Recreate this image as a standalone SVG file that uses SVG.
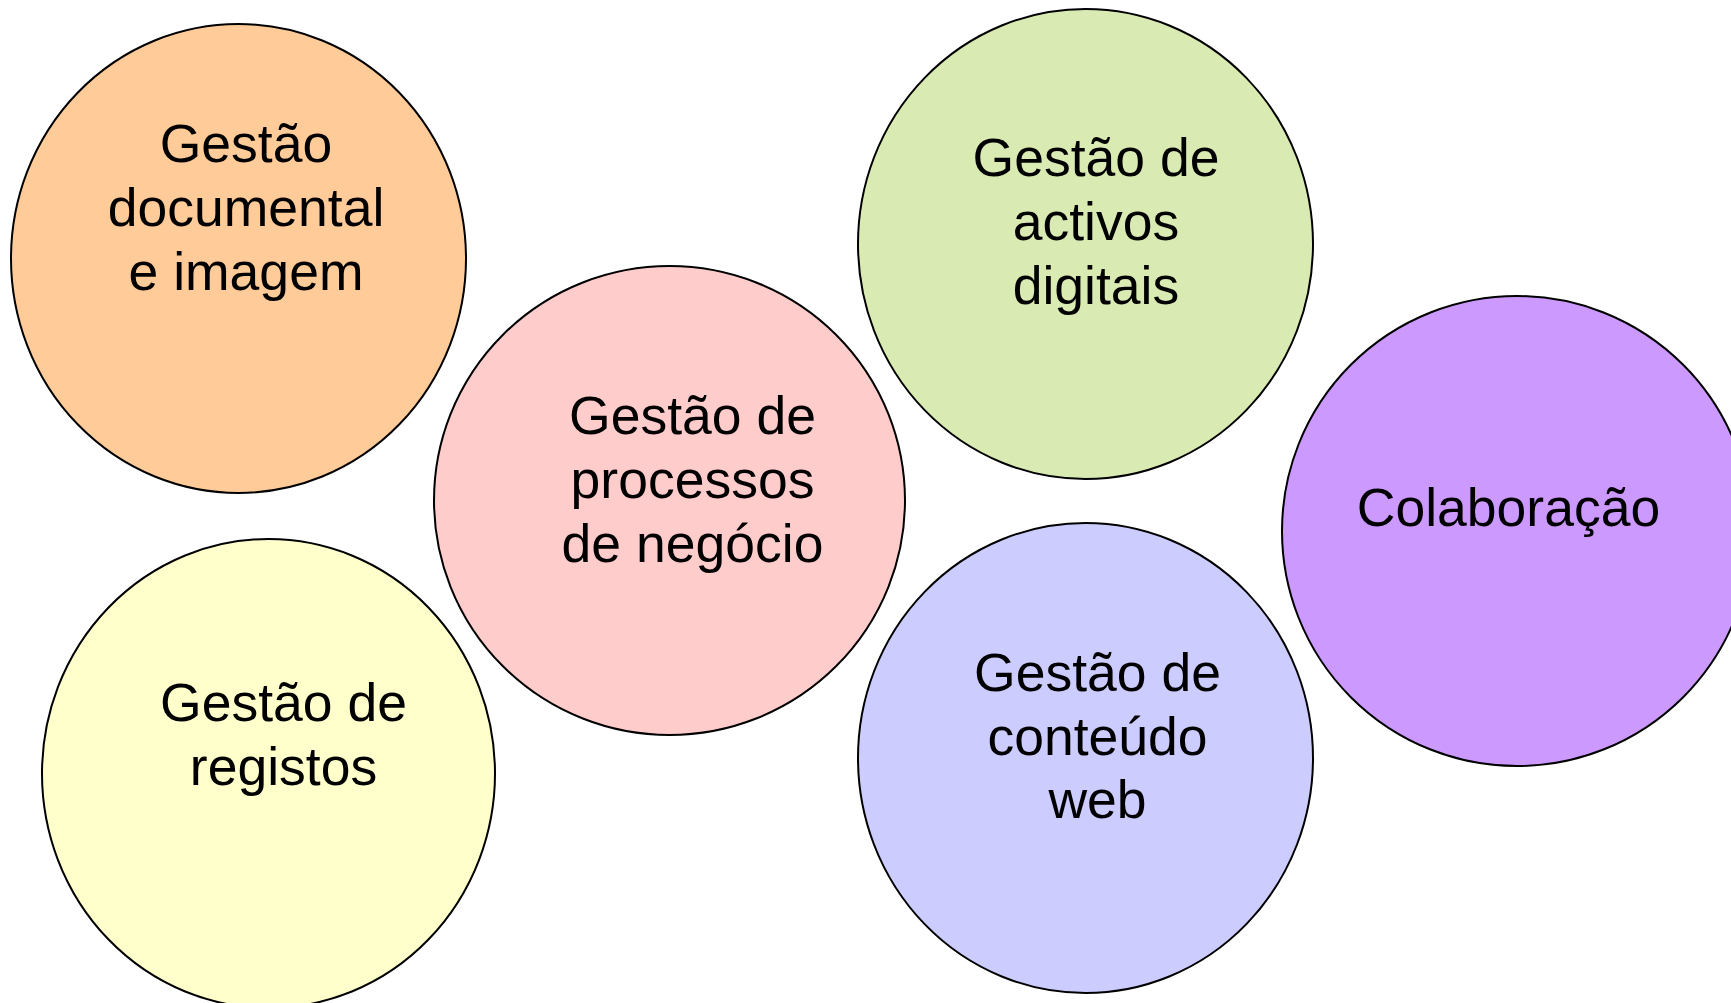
<svg xmlns="http://www.w3.org/2000/svg" width="1731" height="1003" viewBox="0 0 1731 1003">
<style>
.c{stroke:#000;stroke-width:2}
.t{font-family:"Liberation Sans",Arial,sans-serif;font-size:53.5px;fill:#000;text-anchor:middle}
</style>
<rect width="1731" height="1003" fill="#fff"/>
<g id="connectors"/>
<g id="n-documental">
<ellipse class="c" cx="238.5" cy="258.5" rx="227.5" ry="234.5" fill="#FFCC99"/>
<text class="t" x="246" y="162">Gestão</text>
<text class="t" x="246" y="226">documental</text>
<text class="t" x="246" y="290">e imagem</text>
</g>
<g id="n-registos">
<ellipse class="c" cx="268.5" cy="773.5" rx="226.5" ry="234.5" fill="#FFFFCC"/>
<text class="t" x="283.5" y="721">Gestão de</text>
<text class="t" x="283.5" y="785">registos</text>
</g>
<g id="n-processos">
<ellipse class="c" cx="669.5" cy="500.5" rx="235.5" ry="234.5" fill="#FFCCCC"/>
<text class="t" x="692.5" y="434">Gestão de</text>
<text class="t" x="692.5" y="498">processos</text>
<text class="t" x="692.5" y="562">de negócio</text>
</g>
<g id="n-activos">
<ellipse class="c" cx="1085.5" cy="244" rx="227.5" ry="235" fill="#D9EAB3"/>
<text class="t" x="1096" y="176">Gestão de</text>
<text class="t" x="1096" y="240">activos</text>
<text class="t" x="1096" y="304">digitais</text>
</g>
<g id="n-web">
<ellipse class="c" cx="1085.5" cy="758" rx="227.5" ry="235" fill="#CCCCFF"/>
<text class="t" x="1097.5" y="691">Gestão de</text>
<text class="t" x="1097.5" y="755">conteúdo</text>
<text class="t" x="1097.5" y="818">web</text>
</g>
<g id="n-colaboracao">
<ellipse class="c" cx="1517" cy="531" rx="235" ry="235" fill="#CC99FF"/>
<text class="t" x="1508.5" y="526">Colaboração</text>
</g>
</svg>
